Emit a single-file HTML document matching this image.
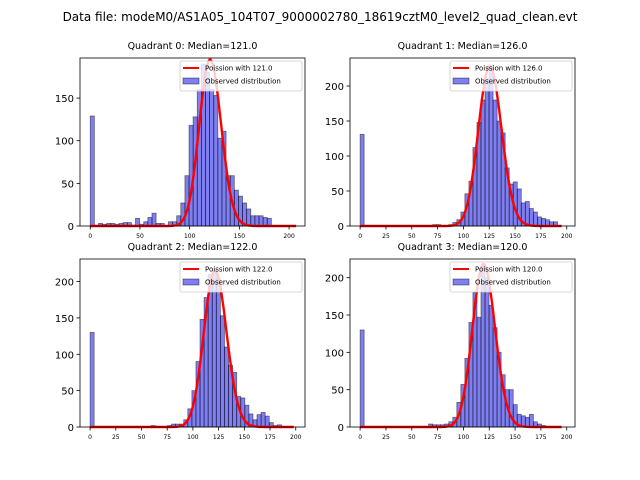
<!DOCTYPE html>
<html><head><meta charset="utf-8"><style>
body{margin:0;background:#fff;}
svg{display:block;font-family:"DejaVu Sans","Liberation Sans",sans-serif;}
</style></head><body>
<svg id="fig" width="640" height="480" viewBox="0 0 640 480">
<rect width="640" height="480" fill="#fff"/>
<text x="320" y="21" font-size="12" text-anchor="middle">Data file: modeM0/AS1A05_104T07_9000002780_18619cztM0_level2_quad_clean.evt</text>
</svg>
<script>
// ---- data ----
const q0Counts = [129,0,3,2,3,3,2,3,4,4,1,9,2,5,10,15,3,3,0,5,5,12,27,59,118,128,160,190,180,160,153,103,111,59,59,42,35,27,20,12,12,12,10,9,0,0,0,0,0,0];
const q1Counts = [131,0,0,0,0,0,0,0,0,0,0,0,0,0,0,0,0,0,2,2,0,0,2,5,9,20,46,64,112,148,180,210,230,180,150,133,83,60,63,53,33,35,25,20,13,11,9,6,6,0];
const q2Counts = [130,0,0,0,0,0,0,0,0,0,0,0,0,0,0,2,1,0,0,2,4,4,4,10,25,50,90,148,178,210,215,205,153,110,85,75,42,40,30,18,10,17,20,15,6,2,3,0,0,0];
const q3Counts = [130,0,0,0,0,0,0,0,0,0,0,0,0,0,0,0,0,4,3,3,3,4,7,13,33,57,92,140,180,147,215,200,163,133,100,70,50,50,30,17,15,13,17,7,4,2,1,0,0,0];
const medians = [121,126,122,120];
const curvePeaks = [195,228,215,218];
const binWidths = [4.14,3.9,3.96,3.9];
const xMaxData = [207,195,198,195];
const yTicks0 = [0,50,100,150];
const yTicks = [0,50,100,150,200];
const xTicks0 = [0,50,100,150,200];
const xTicks = [0,25,50,75,100,125,150,175,200];

const NS="http://www.w3.org/2000/svg";
const svg=document.getElementById('fig');
function mk(tag,attrs,parent){const e=document.createElementNS(NS,tag);for(const k in attrs)e.setAttribute(k,attrs[k]);(parent||svg).appendChild(e);return e;}
function lgamma(x){let s=0;while(x<7){s-=Math.log(x);x+=1;}return s+(x-0.5)*Math.log(x)-x+0.5*Math.log(2*Math.PI)+1/(12*x)-1/(360*x*x*x);}

const panels=[
 {counts:q0Counts,box:[80,58,305,226],xr:[-10.3,216],ymax:197,yt:yTicks0,xt:xTicks0},
 {counts:q1Counts,box:[350,58,575,226],xr:[-9.8,208],ymax:240,yt:yTicks,xt:xTicks},
 {counts:q2Counts,box:[80,259,305,427],xr:[-9.8,209],ymax:231,yt:yTicks,xt:xTicks},
 {counts:q3Counts,box:[350,259,575,427],xr:[-9.8,208],ymax:225,yt:yTicks,xt:xTicks}
];
panels.forEach((p,i)=>{
 const [L,T,R,B]=p.box;
 const g=mk('g',{});
 
 
 const sx=v=>L+(v-p.xr[0])/(p.xr[1]-p.xr[0])*(R-L);
 const sy=v=>B-v/p.ymax*(B-T);
 const t=mk('text',{x:(L+R)/2,y:T-9,'font-size':9.5,'text-anchor':'middle'},g);
 t.textContent='Quadrant '+i+': Median='+medians[i].toFixed(1);
 
 
 const bw=binWidths[i];
 p.counts.forEach((c,k)=>{
  if(c<=0)return;
  const r=mk('rect',{x:sx(k*bw),y:sy(c),width:sx((k+1)*bw)-sx(k*bw),height:sy(0)-sy(c),fill:'rgba(0,0,230,0.5)',stroke:'rgba(0,0,0,0.5)','stroke-width':0.8},g);
  
  
 });
 const m=medians[i];
 const pm=x=>Math.exp(x*Math.log(m)-m-lgamma(x+1));
 const peak=pm(Math.floor(m));
 let d='';
 for(let x=0;x<=xMaxData[i];x+=1){const y=pm(x)/peak*curvePeaks[i];d+=(x?'L':'M')+sx(x).toFixed(1)+' '+sy(y).toFixed(1);}
 const pl=mk('path',{d:d,fill:'none',stroke:'#ff0000','stroke-width':2.4},g);
 
 
 mk('rect',{x:L,y:T,width:R-L,height:B-T,fill:'none',stroke:'#000','stroke-width':0.8},g);
 p.yt.forEach(v=>{
  mk('line',{x1:L-3.5,x2:L,y1:sy(v),y2:sy(v),stroke:'#000','stroke-width':0.8},g);
  const tx=mk('text',{x:L-6,y:sy(v)+4,'font-size':10,'text-anchor':'end'},g);tx.textContent=v;
  
  
 });
 p.xt.forEach(v=>{
  mk('line',{x1:sx(v),x2:sx(v),y1:B,y2:B+3.5,stroke:'#000','stroke-width':0.8},g);
  const tx=mk('text',{x:sx(v),y:B+12,'font-size':6,'text-anchor':'middle'},g);tx.textContent=v;
  
  
 });
 const lg=mk('g',{},g);
 
 
 mk('rect',{x:R-125,y:T+3,width:122,height:30,fill:'#fff','fill-opacity':0.8,stroke:'#ccc','stroke-width':0.8,rx:2},lg);
 mk('line',{x1:R-122,x2:R-106,y1:T+10,y2:T+10,stroke:'#ff0000','stroke-width':2},lg);
 const l1=mk('text',{x:R-100,y:T+12.5,'font-size':7},lg);l1.textContent='Poission with '+m.toFixed(1);
 
 
 mk('rect',{x:R-122,y:T+20,width:16,height:6,fill:'rgba(0,0,230,0.5)',stroke:'rgba(0,0,0,0.5)','stroke-width':0.8},lg);
 const l2=mk('text',{x:R-100,y:T+25.5,'font-size':7},lg);l2.textContent='Observed distribution';
 
 
});
</script>
</body></html>
